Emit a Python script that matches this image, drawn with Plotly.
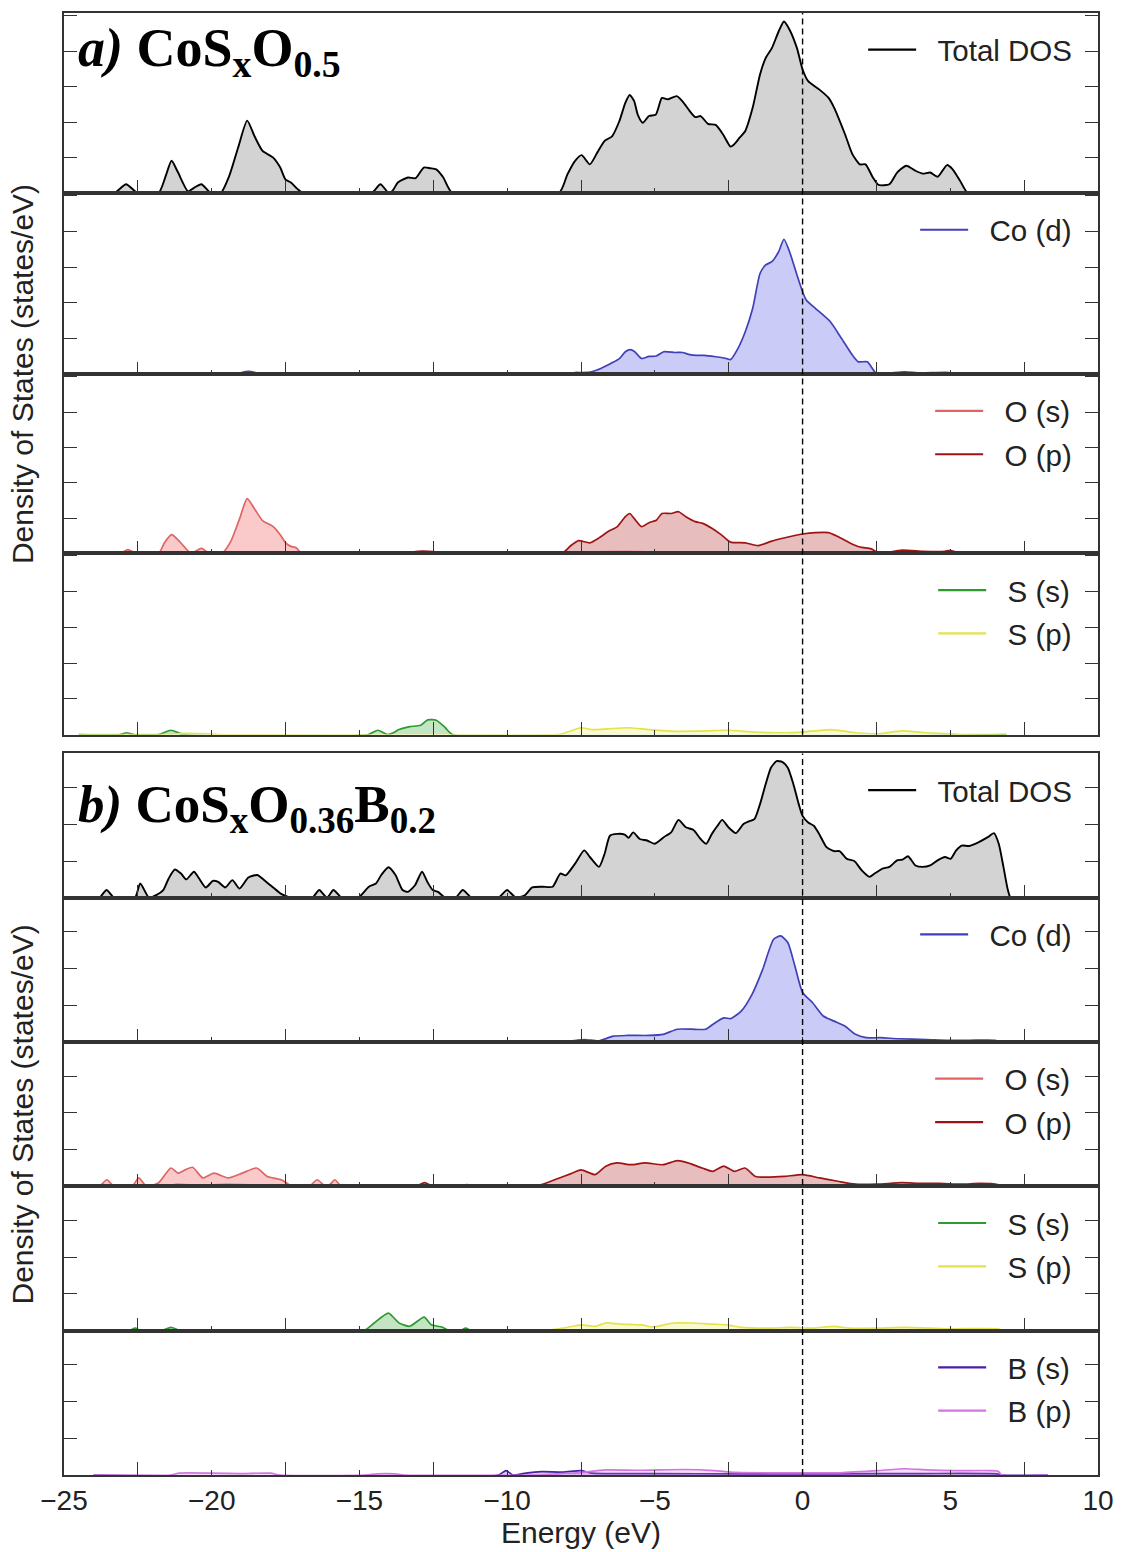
import plotly.graph_objects as go

# ---------------- DATA ----------------
# Panel a) CoSxO0.5
A_TOT_E = [-24.5, -23.3, -22.9, -22.5, -21.8, -21.55, -21.36, -21.15, -20.8, -20.6, -20.35, -20.05, -19.7, -19.4, -19.1, -18.8, -18.55, -18.28, -17.92, -17.68, -17.5, -17.32, -17.1, -16.9, -14.6, -14.29, -14.0, -13.85, -13.7, -13.36, -13.1, -12.82, -12.6, -12.4, -12.16, -11.85, -8.25, -7.96, -7.7, -7.48, -7.2, -6.95, -6.7, -6.45, -6.2, -6.0, -5.85, -5.7, -5.58, -5.41, -5.2, -4.97, -4.76, -4.57, -4.26, -4.07, -3.82, -3.63, -3.45, -3.2, -2.94, -2.69, -2.44, -2.32, -2.13, -1.94, -1.69, -1.44, -1.25, -1.04, -0.81, -0.63, -0.44, -0.19, 0.0, 0.19, 0.56, 0.88, 1.07, 1.44, 1.69, 1.94, 2.13, 2.38, 2.57, 2.94, 3.2, 3.51, 3.82, 4.07, 4.32, 4.57, 4.89, 5.08, 5.33, 5.6, 6.9]
A_TOT_V = [0, 0, 0.25, 0, 0, 0.5, 0.91, 0.6, 0.05, 0.15, 0.25, 0.02, 0, 0.5, 1.3, 2.04, 1.6, 1.19, 1.0, 0.72, 0.38, 0.3, 0.12, 0, 0, 0.25, 0, 0.1, 0.3, 0.44, 0.42, 0.72, 0.7, 0.67, 0.44, 0, 0, 0.53, 0.91, 1.07, 0.81, 1.14, 1.47, 1.6, 2.03, 2.54, 2.76, 2.59, 2.21, 1.98, 2.17, 2.21, 2.68, 2.64, 2.73, 2.59, 2.31, 2.14, 2.17, 1.95, 1.92, 1.65, 1.31, 1.37, 1.56, 1.75, 2.4, 3.34, 3.8, 4.08, 4.55, 4.83, 4.6, 4.08, 3.48, 3.15, 2.92, 2.68, 2.4, 1.65, 1.09, 0.81, 0.81, 0.44, 0.23, 0.25, 0.58, 0.77, 0.63, 0.55, 0.58, 0.46, 0.79, 0.67, 0.35, 0, 0]

A_COD_E = [-24.5, -19.3, -18.76, -18.2, -13.8, -13.4, -13.0, -8.2, -7.7, -7.46, -7.14, -6.83, -6.45, -6.2, -6.0, -5.83, -5.68, -5.45, -5.2, -4.95, -4.7, -4.32, -4.07, -3.82, -3.57, -3.32, -2.94, -2.57, -2.44, -2.19, -1.94, -1.69, -1.44, -1.25, -1.04, -0.81, -0.63, -0.44, -0.19, 0.0, 0.13, 0.44, 0.94, 1.32, 1.69, 1.88, 2.19, 2.5, 2.9, 3.45, 3.95, 4.95, 5.33, 6.9]
A_COD_V = [0, 0, 0.08, 0, 0, 0.02, 0, 0, 0.05, 0.05, 0.07, 0.16, 0.32, 0.44, 0.63, 0.69, 0.63, 0.44, 0.5, 0.51, 0.63, 0.61, 0.61, 0.55, 0.53, 0.53, 0.49, 0.44, 0.41, 0.72, 1.19, 1.84, 2.82, 3.06, 3.15, 3.43, 3.78, 3.43, 2.78, 2.31, 2.07, 1.84, 1.47, 1.0, 0.53, 0.35, 0.35, 0.02, 0.03, 0.07, 0.04, 0.05, 0, 0]

A_OS_E = [-24.5, -23.1, -22.84, -22.55, -21.8, -21.6, -21.36, -21.1, -20.7, -20.55, -20.35, -20.1, -19.66, -19.35, -19.05, -18.8, -18.52, -18.28, -17.92, -17.68, -17.5, -17.32, -17.14, -16.96, -13.5, -13.0, -12.5, -8.2, -7.5, -6.0, -4.5, -3.0, -1.0, 1.0, 2.5, 5.3, 6.9]
A_OS_V = [0, 0, 0.11, 0, 0, 0.3, 0.53, 0.35, 0, 0.06, 0.14, 0.02, 0, 0.35, 1.0, 1.55, 1.22, 0.93, 0.76, 0.53, 0.3, 0.2, 0.16, 0, 0, 0.03, 0, 0, 0.04, 0.05, 0.04, 0.04, 0.03, 0.03, 0.02, 0, 0]

A_OP_E = [-24.5, -21.8, -21.3, -20.8, -13.6, -13.0, -12.5, -12.0, -8.15, -7.83, -7.58, -7.2, -6.89, -6.58, -6.27, -6.0, -5.85, -5.7, -5.45, -5.2, -4.95, -4.76, -4.45, -4.2, -3.95, -3.63, -3.38, -3.07, -2.76, -2.44, -1.94, -1.5, -1.07, -0.56, 0.0, 0.44, 0.88, 1.19, 1.57, 1.94, 2.32, 2.57, 2.94, 3.32, 3.7, 4.07, 4.82, 5.0, 5.33, 6.9]
A_OP_V = [0, 0, 0.04, 0, 0, 0.06, 0.05, 0, 0, 0.23, 0.36, 0.3, 0.44, 0.62, 0.76, 1.04, 1.13, 0.99, 0.76, 0.87, 0.94, 1.13, 1.13, 1.18, 1.04, 0.9, 0.85, 0.71, 0.53, 0.32, 0.3, 0.22, 0.34, 0.45, 0.55, 0.59, 0.59, 0.48, 0.31, 0.18, 0.13, 0.02, 0.04, 0.09, 0.08, 0.06, 0.06, 0.09, 0, 0]

A_SS_E = [-24.5, -23.1, -22.88, -22.65, -21.8, -21.38, -20.95, -14.7, -14.38, -14.05, -13.85, -13.66, -13.3, -12.93, -12.69, -12.4, -12.09, -11.85, 6.9]
A_SS_V = [0, 0, 0.05, 0, 0, 0.12, 0, 0, 0.12, 0, 0.05, 0.14, 0.22, 0.26, 0.41, 0.4, 0.19, 0, 0]

A_SP_E = [-24.5, -21.8, -21.0, -20.2, -19.8, -8.3, -8.1, -7.5, -7.14, -6.6, -5.93, -5.2, -4.24, -3.3, -2.55, -1.59, -0.62, 0.0, 0.95, 1.79, 2.6, 3.36, 4.2, 5.05, 5.3, 6.9]
A_SP_V = [0, 0, 0.03, 0.02, 0, 0, 0.03, 0.19, 0.14, 0.16, 0.19, 0.14, 0.09, 0.1, 0.12, 0.07, 0.05, 0.07, 0.14, 0.05, 0.02, 0.1, 0.05, 0.02, 0, 0]

# Panel b) CoSxO0.36B0.2
B_TOT_E = [-24.0, -23.8, -23.56, -23.3, -22.6, -22.42, -22.12, -21.88, -21.64, -21.46, -21.25, -21.04, -20.86, -20.6, -20.44, -20.2, -19.96, -19.78, -19.54, -19.3, -19.06, -18.76, -18.46, -18.22, -17.92, -17.68, -17.5, -17.3, -16.6, -16.36, -16.1, -15.88, -15.6, -15.05, -14.68, -14.44, -14.26, -14.02, -13.78, -13.54, -13.36, -13.12, -12.88, -12.7, -12.52, -12.34, -12.1, -11.75, -11.5, -11.2, -10.3, -10.0, -9.7, -9.4, -9.15, -8.8, -8.46, -8.2, -8.02, -7.7, -7.39, -7.2, -6.89, -6.7, -6.52, -6.27, -6.02, -5.89, -5.73, -5.51, -5.26, -5.01, -4.7, -4.45, -4.2, -3.95, -3.7, -3.45, -3.26, -3.07, -2.88, -2.72, -2.51, -2.26, -2.0, -1.82, -1.63, -1.44, -1.25, -1.07, -0.88, -0.69, -0.5, -0.31, -0.13, 0.0, 0.19, 0.38, 0.56, 0.81, 1.07, 1.25, 1.5, 1.75, 2.0, 2.26, 2.44, 2.69, 2.94, 3.2, 3.38, 3.57, 3.82, 4.07, 4.32, 4.57, 4.82, 5.01, 5.2, 5.39, 5.64, 5.95, 6.27, 6.48, 6.64, 6.8, 6.95, 7.05, 8.3]
B_TOT_V = [0, 0, 0.21, 0, 0, 0.39, 0, 0.07, 0.21, 0.52, 0.77, 0.66, 0.5, 0.71, 0.54, 0.28, 0.46, 0.43, 0.28, 0.48, 0.25, 0.55, 0.62, 0.48, 0.28, 0.12, 0.05, 0, 0, 0.21, 0, 0.21, 0, 0, 0.3, 0.39, 0.62, 0.83, 0.62, 0.21, 0.16, 0.34, 0.71, 0.43, 0.21, 0.16, 0, 0, 0.21, 0, 0, 0.21, 0, 0.07, 0.28, 0.3, 0.3, 0.66, 0.61, 0.93, 1.29, 1.11, 0.84, 1.2, 1.69, 1.74, 1.72, 1.63, 1.78, 1.6, 1.56, 1.47, 1.65, 1.78, 2.12, 1.92, 1.85, 1.6, 1.47, 1.74, 1.96, 2.12, 1.92, 1.76, 2.01, 2.08, 2.14, 2.55, 3.09, 3.54, 3.72, 3.7, 3.54, 3.09, 2.55, 2.23, 2.05, 1.96, 1.74, 1.38, 1.27, 1.27, 1.06, 1.0, 0.75, 0.57, 0.66, 0.79, 0.84, 1.02, 1.04, 1.13, 0.88, 0.84, 0.88, 1.02, 1.11, 1.06, 1.29, 1.42, 1.41, 1.51, 1.65, 1.76, 1.47, 0.84, 0.21, 0, 0]

B_COD_E = [-24.0, -20.3, -19.9, -19.5, -8.35, -7.86, -7.38, -6.9, -6.41, -5.93, -5.2, -4.72, -4.24, -3.76, -3.28, -3.04, -2.67, -2.43, -2.07, -1.71, -1.35, -0.98, -0.74, -0.5, -0.26, 0.0, 0.34, 0.7, 1.07, 1.43, 1.79, 2.15, 2.64, 3.24, 4.2, 4.93, 5.65, 6.5, 6.74, 8.3]
B_COD_V = [0, 0, 0.02, 0, 0, 0.03, 0.07, 0.03, 0.16, 0.18, 0.18, 0.21, 0.35, 0.35, 0.35, 0.48, 0.66, 0.64, 0.85, 1.3, 1.98, 2.8, 2.89, 2.71, 2.07, 1.35, 1.07, 0.71, 0.57, 0.44, 0.21, 0.12, 0.12, 0.09, 0.07, 0.05, 0.05, 0.05, 0, 0]

B_OS_E = [-24.0, -23.8, -23.55, -23.3, -22.7, -22.47, -22.2, -21.8, -21.38, -21.14, -20.9, -20.65, -20.3, -19.93, -19.45, -18.97, -18.48, -18.12, -17.64, -17.27, -16.7, -16.43, -16.15, -16.0, -15.83, -15.6, -13.0, -12.7, -12.4, -9.0, -7.5, -4.0, 0.0, 4.0, 6.74, 8.3]
B_OS_V = [0, 0, 0.18, 0, 0, 0.23, 0, 0.1, 0.5, 0.36, 0.45, 0.52, 0.23, 0.36, 0.23, 0.36, 0.5, 0.27, 0.18, 0, 0, 0.18, 0, 0.05, 0.18, 0, 0, 0.04, 0, 0, 0.04, 0.04, 0.03, 0.03, 0, 0]

B_OP_E = [-24.0, -21.8, -21.2, -20.5, -19.5, -18.5, -17.8, -13.1, -12.8, -12.5, -11.6, -11.36, -11.1, -9.2, -8.83, -8.23, -7.86, -7.5, -7.02, -6.66, -6.29, -5.81, -5.33, -4.72, -4.24, -3.88, -3.4, -3.04, -2.67, -2.31, -1.95, -1.59, -1.23, -0.62, 0.0, 0.58, 1.19, 1.79, 2.52, 3.36, 3.96, 4.6, 5.41, 6.0, 6.6, 6.74, 8.3]
B_OP_V = [0, 0, 0.05, 0.04, 0.05, 0.04, 0, 0, 0.1, 0, 0, 0.05, 0, 0, 0.05, 0.23, 0.34, 0.45, 0.32, 0.55, 0.64, 0.59, 0.64, 0.59, 0.7, 0.64, 0.5, 0.41, 0.55, 0.41, 0.5, 0.27, 0.25, 0.27, 0.32, 0.23, 0.14, 0.06, 0.06, 0.1, 0.08, 0.08, 0.06, 0.08, 0.05, 0, 0]

B_SS_E = [-24.0, -22.8, -22.59, -22.4, -21.7, -21.38, -21.05, -14.86, -14.5, -14.02, -13.66, -13.3, -12.81, -12.57, -12.21, -11.95, -11.6, -11.4, -11.2, 8.3]
B_SS_V = [0, 0, 0.07, 0, 0, 0.09, 0, 0, 0.21, 0.48, 0.21, 0.12, 0.37, 0.16, 0.1, 0, 0, 0.07, 0, 0]

B_SP_E = [-24.0, -8.9, -8.1, -7.5, -7.02, -6.66, -6.17, -5.45, -5.09, -4.36, -3.76, -3.04, -2.55, -2.07, -1.1, -0.39, 0.34, 1.07, 1.55, 2.52, 3.48, 4.93, 6.62, 6.74, 8.3]
B_SP_V = [0, 0, 0.07, 0.16, 0.12, 0.21, 0.18, 0.16, 0.1, 0.21, 0.21, 0.18, 0.16, 0.09, 0.07, 0.09, 0.07, 0.12, 0.07, 0.07, 0.09, 0.05, 0.05, 0, 0]

B_BS_E = [-24.0, -10.3, -10.04, -9.8, -9.5, -9.3, -8.83, -8.1, -7.5, -7.14, -5.0, -2.0, 1.0, 4.0, 6.6, 6.74, 8.3]
B_BS_V = [0, 0, 0.12, 0, 0.03, 0.06, 0.09, 0.08, 0.12, 0.05, 0.04, 0.03, 0.03, 0.04, 0.03, 0, 0]

B_BP_E = [-24.0, -21.4, -21.1, -20.0, -19.0, -18.0, -17.7, -14.8, -14.4, -13.8, -13.5, -9.0, -8.2, -7.6, -6.66, -5.5, -4.0, -3.0, -2.3, -1.0, 0.0, 1.2, 2.52, 3.48, 4.2, 5.17, 6.38, 6.62, 6.74, 8.3]
B_BP_V = [0, 0, 0.05, 0.05, 0.04, 0.05, 0, 0, 0.03, 0.03, 0, 0, 0.04, 0.06, 0.14, 0.13, 0.15, 0.12, 0.07, 0.06, 0.06, 0.06, 0.12, 0.17, 0.14, 0.12, 0.12, 0.1, 0, 0]

X_MAJOR = [-25, -20, -15, -10, -5, 0, 5, 10]
X_MINOR = [-22.5, -17.5, -12.5, -7.5, -2.5, 2.5, 7.5]
X_LABELS = ["\u221225", "\u221220", "\u221215", "\u221210", "\u22125", "0", "5", "10"]

# ---------------- STYLE / LAYOUT ----------------
W, H = 1125, 1552
ML, MR, MT, MB = 64, 20, 11, 72
PH = H - MT - MB
PW = W - ML - MR


def yf(px):
    return (H - MB - px) / PH


def xf(px):
    return (px - ML) / PW


STY = {
    "tot": ("black", "rgb(211,211,211)"),
    "cod": ("#4040b8", "rgba(70,70,225,0.28)"),
    "os": ("#e06464", "rgba(240,90,90,0.32)"),
    "op": ("#9e1414", "rgba(175,35,35,0.30)"),
    "ss": ("#2f9a2f", "rgba(60,170,60,0.30)"),
    "sp": ("#e3e34c", "rgba(235,235,80,0.28)"),
    "bs": ("#4a20a8", "rgba(90,50,190,0.25)"),
    "bp": ("#d276e2", "rgba(215,120,230,0.25)"),
}

# subplot: (top px, bottom px, ymax, [(E, V, name, style)])
SUBPLOTS = [
    (11, 192, 5.07, [(A_TOT_E, A_TOT_V, "Total DOS", "tot")]),
    (192, 374, 5.07, [(A_COD_E, A_COD_V, "Co (d)", "cod")]),
    (374, 554, 5.07, [(A_OS_E, A_OS_V, "O (s)", "os"), (A_OP_E, A_OP_V, "O (p)", "op")]),
    (554, 736, 5.07, [(A_SS_E, A_SS_V, "S (s)", "ss"), (A_SP_E, A_SP_V, "S (p)", "sp")]),
    (755, 900, 3.93, [(B_TOT_E, B_TOT_V, "Total DOS", "tot")]),
    (900, 1045, 3.93, [(B_COD_E, B_COD_V, "Co (d)", "cod")]),
    (1045, 1190, 3.93, [(B_OS_E, B_OS_V, "O (s)", "os"), (B_OP_E, B_OP_V, "O (p)", "op")]),
    (1190, 1335, 3.93, [(B_SS_E, B_SS_V, "S (s)", "ss"), (B_SP_E, B_SP_V, "S (p)", "sp")]),
    (1335, 1480, 3.93, [(B_BS_E, B_BS_V, "B (s)", "bs"), (B_BP_E, B_BP_V, "B (p)", "bp")]),
]

AX = "#333333"
SANS = "Liberation Sans, Arial, sans-serif"
SERIF = "Liberation Serif, Times New Roman, serif"
NB = "\u00a0\u00a0"

fig = go.Figure()
layout = dict(
    width=W, height=H, margin=dict(l=ML, r=MR, t=MT, b=MB),
    paper_bgcolor="white", plot_bgcolor="rgba(0,0,0,0)",
    showlegend=True, annotations=[], shapes=[],
)

n = len(SUBPLOTS)
for k, (top, bot, ymax, curves) in enumerate(SUBPLOTS, start=1):
    xs = "x" if k == 1 else f"x{k}"
    ys = "y" if k == 1 else f"y{k}"
    lg = "legend" if k == 1 else f"legend{k}"
    for j, (E, V, name, st) in enumerate(curves):
        lc, fc = STY[st]
        lw = 1.9 if st == "tot" else 1.7
        fig.add_trace(go.Scatter(
            x=E, y=V, mode="lines", xaxis=xs, yaxis=ys,
            line=dict(color=lc, width=lw, shape="spline", smoothing=0.6),
            fill="tozeroy", fillcolor=fc, showlegend=False, hoverinfo="skip",
        ))
    for j, (E, V, name, st) in enumerate(curves):
        lc, fc = STY[st]
        fig.add_trace(go.Scatter(
            x=[None], y=[None], mode="lines", xaxis=xs, yaxis=ys,
            line=dict(color=lc, width=2.2), name=NB + name, legend=lg,
            legendgroup=f"g{k}_{j}", showlegend=True,
        ))
    last = (k == n)
    xa = dict(
        range=[-25, 10], domain=[0, 1], anchor=ys,
        showgrid=False, zeroline=False, showline=True, linecolor=AX, linewidth=1.5,
        mirror=True, ticks="inside", tickvals=X_MAJOR, ticktext=X_LABELS,
        ticklen=5, tickwidth=1.3, tickcolor=AX,
        minor=dict(tickvals=X_MINOR, ticks="inside", ticklen=13, tickwidth=1.3, tickcolor=AX),
        showticklabels=last, ticklabeloverflow="allow",
        tickfont=dict(family=SANS, size=28, color="#222"),
    )
    if k > 1:
        xa["matches"] = "x"
    if last:
        xa["title"] = dict(text="Energy (eV)", font=dict(family=SANS, size=30, color="#222"), standoff=4)
    ya = dict(
        range=[0, ymax], domain=[yf(bot), yf(top)], anchor=xs,
        showgrid=False, zeroline=False, showline=True, linecolor=AX, linewidth=1.5,
        mirror="ticks", ticks="inside", tick0=0, dtick=1, ticklen=13, tickwidth=1.3,
        tickcolor=AX, showticklabels=False,
    )
    layout["xaxis" if k == 1 else f"xaxis{k}"] = xa
    layout["yaxis" if k == 1 else f"yaxis{k}"] = ya
    layout[lg] = dict(
        x=xf(1084), xanchor="right", y=yf(top + 11), yanchor="top",
        bgcolor="rgba(0,0,0,0)", borderwidth=0, tracegroupgap=2, itemwidth=48,
        font=dict(family=SANS, size=29.5, color="#222"),
    )

# dashed Fermi-level lines for each panel
for (t, b) in [(11, 736), (755, 1480)]:
    layout["shapes"].append(dict(
        type="line", xref="x", x0=0, x1=0, yref="paper", y0=yf(b), y1=yf(t),
        line=dict(color="black", width=1.4, dash="6px,4px"), layer="above",
    ))

# y-axis titles
for (t, b) in [(11, 736), (755, 1480)]:
    layout["annotations"].append(dict(
        text="Density of States (states/eV)", xref="paper", yref="paper",
        x=xf(22), y=yf((t + b) / 2), xanchor="center", yanchor="middle",
        textangle=-90, showarrow=False, font=dict(family=SANS, size=30, color="#222"),
    ))

# panel titles
layout["annotations"].append(dict(
    text="<b><i>a)</i> CoS<sub>x</sub>O<sub>0.5</sub></b>", xref="paper", yref="paper",
    x=xf(76), y=yf(50), xanchor="left", yanchor="middle", showarrow=False,
    font=dict(family=SERIF, size=54, color="black"),
))
layout["annotations"].append(dict(
    text="<b><i>b)</i> CoS<sub>x</sub>O<sub>0.36</sub>B<sub>0.2</sub></b>", xref="paper", yref="paper",
    x=xf(76), y=yf(810), xanchor="left", yanchor="middle", showarrow=False,
    font=dict(family=SERIF, size=53, color="black"),
))

fig.update_layout(**layout)
fig.write_html("out.html")
